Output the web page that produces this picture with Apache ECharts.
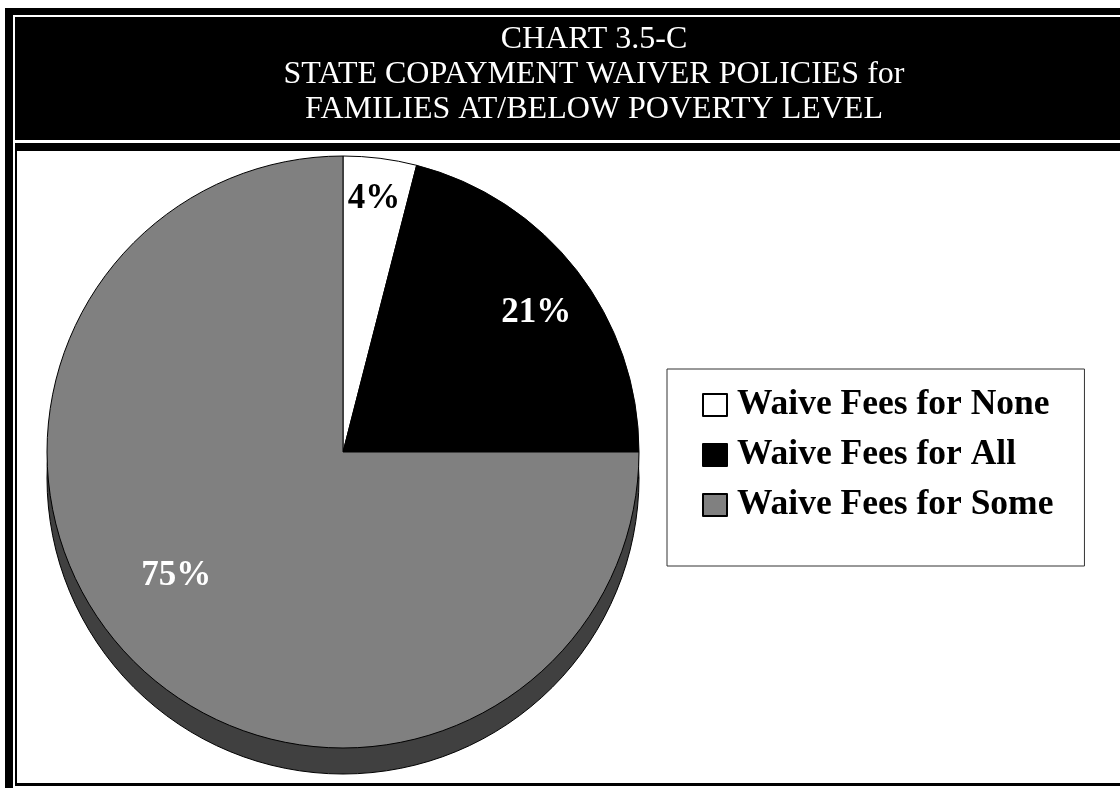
<!DOCTYPE html>
<html>
<head>
<meta charset="utf-8">
<script src="https://cdn.jsdelivr.net/npm/echarts@6/dist/echarts.min.js"></script>
<style>
  html, body { margin: 0; padding: 0; background: #fff; }
  #chart { width: 1120px; height: 788px; }
</style>
</head>
<body>
<div id="chart"></div>
<script>
const categories = ['Waive Fees for None', 'Waive Fees for All', 'Waive Fees for Some'];
const shares = [4, 21, 75];
const sliceColors = ['#ffffff', '#000000', '#808080'];
const titleLines = ['CHART 3.5-C', 'STATE COPAYMENT WAIVER POLICIES for', 'FAMILIES AT/BELOW POVERTY LEVEL'];

const chartDom = document.getElementById('chart');
const chart = echarts.init(chartDom);

const serif = 'Liberation Serif, Times New Roman, serif';
// nudges so the labels sit where the original put them
const labelNudge = [[12, -103], [74, -46], [-60, 17]];
const labelColors = ['#000', '#fff', '#fff'];

const pieData = categories.map((name, i) => ({
    name: name,
    value: shares[i],
    itemStyle: { color: sliceColors[i] },
    label: { color: labelColors[i] }
}));

const option = {
    animation: false,
    backgroundColor: '#fff',
    title: {
        text: titleLines.join('\n'),
        left: 594,
        top: 22,
        padding: 0,
        textAlign: 'center',
        textStyle: {
            fontFamily: serif,
            fontSize: 32,
            fontWeight: 'normal',
            color: '#fff',
            lineHeight: 35
        }
    },
    graphic: [
        { type: 'rect', z: 0, silent: true, shape: { x: 5, y: 8, width: 1200, height: 780 }, style: { fill: '#000' } },
        { type: 'rect', z: 0, silent: true, shape: { x: 13, y: 15, width: 1200, height: 773 }, style: { fill: '#fff' } },
        { type: 'rect', z: 0, silent: true, shape: { x: 15, y: 17, width: 1200, height: 123 }, style: { fill: '#000' } },
        { type: 'rect', z: 0, silent: true, shape: { x: 15, y: 143, width: 1200, height: 8 }, style: { fill: '#000' } },
        { type: 'rect', z: 0, silent: true, shape: { x: 15, y: 151, width: 2, height: 635 }, style: { fill: '#000' } },
        { type: 'rect', z: 0, silent: true, shape: { x: 15, y: 783, width: 1200, height: 3 }, style: { fill: '#000' } }
    ],
    legend: {
        data: categories,
        orient: 'vertical',
        left: 667,
        top: 369,
        padding: [18, 31, 43, 35],
        backgroundColor: '#fff',
        borderColor: '#333',
        borderWidth: 1,
        borderRadius: 0,
        itemWidth: 24,
        itemHeight: 22,
        itemGap: 14,
        icon: 'rect',
        selectedMode: false,
        textStyle: {
            fontFamily: serif,
            fontWeight: 'bold',
            fontSize: 35.5,
            lineHeight: 36,
            color: '#000',
            padding: [0, 0, 0, 5]
        }
    },
    series: [
        {
            // depth of the pie
            type: 'pie',
            silent: true,
            z: 1,
            center: [343, 478],
            radius: 296,
            startAngle: 90,
            clockwise: true,
            label: { show: false },
            labelLine: { show: false },
            itemStyle: { color: '#404040', borderColor: '#000', borderWidth: 1 },
            data: shares.map(v => ({ value: v }))
        },
        {
            type: 'pie',
            silent: true,
            z: 2,
            center: [343, 452],
            radius: 296,
            startAngle: 90,
            clockwise: true,
            itemStyle: { borderColor: '#000', borderWidth: 1 },
            label: {
                show: true,
                position: 'inside',
                formatter: '{c}%',
                fontFamily: serif,
                fontWeight: 'bold',
                fontSize: 35
            },
            labelLine: { show: false },
            labelLayout: function (params) {
                const n = labelNudge[params.dataIndex];
                return { dx: n[0], dy: n[1] };
            },
            data: pieData
        }
    ]
};

chart.setOption(option);
</script>
</body>
</html>
